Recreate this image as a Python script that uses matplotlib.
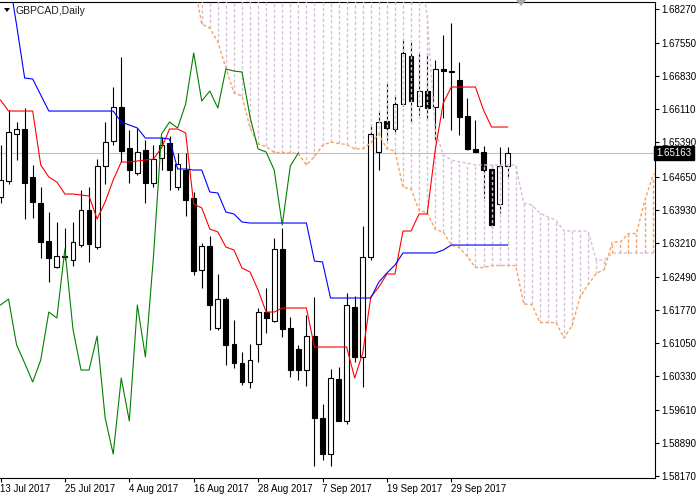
import matplotlib
matplotlib.use('Agg')
import matplotlib.pyplot as plt
from matplotlib.patches import Polygon
import numpy as np

plt.rcParams['font.family'] = ['Liberation Sans', 'DejaVu Sans']

symbol_label = 'GBPCAD,Daily'
date_labels = ['13 Jul 2017', '25 Jul 2017', '4 Aug 2017', '16 Aug 2017',
               '28 Aug 2017', '7 Sep 2017', '19 Sep 2017', '29 Sep 2017']
date_bars = [0, 8, 16, 24, 32, 40, 48, 56]
price_tick_labels = ['1.58170', '1.58890', '1.59610', '1.60330', '1.61050',
                     '1.61770', '1.62490', '1.63210', '1.63930', '1.64650',
                     '1.65390', '1.66110', '1.66830', '1.67550', '1.68270']
last_price = 1.65163

opens = [1.64210, 1.64557, 1.65573, 1.65681, 1.64643, 1.64081, 1.63259, 1.62697,
         1.62934, 1.62848, 1.63172, 1.63929, 1.63129, 1.64881, 1.65422, 1.66157,
         1.65270, 1.64730, 1.65227, 1.64513, 1.65054, 1.65378, 1.64427, 1.64794,
         1.64189, 1.62632, 1.63151, 1.61377, 1.62005, 1.61031, 1.60620, 1.60209,
         1.61031, 1.61723, 1.61529, 1.63086, 1.61377, 1.60923, 1.60469, 1.61204,
         1.59431, 1.58652, 1.60274, 1.59366, 1.61832, 1.60750, 1.62913, 1.65184,
         1.65854, 1.65681, 1.66222, 1.67260, 1.66179, 1.66503, 1.66157, 1.66979,
         1.66935, 1.66741, 1.65962, 1.65249, 1.65184, 1.64816, 1.64059, 1.64881]
highs = [1.65335, 1.66092, 1.65833, 1.66135, 1.64903, 1.64427, 1.63886, 1.63670,
         1.63540, 1.63670, 1.64362, 1.64427, 1.65032, 1.65833, 1.66589, 1.67238,
         1.65659, 1.65703, 1.65443, 1.65335, 1.65508, 1.65530, 1.65162, 1.65162,
         1.64319, 1.63216, 1.63367, 1.62545, 1.62048, 1.61550, 1.60858, 1.61031,
         1.61810, 1.62242, 1.63324, 1.63540, 1.61615, 1.61010, 1.61658, 1.62048,
         1.59734, 1.60491, 1.60534, 1.62134, 1.62069, 1.63583, 1.65768, 1.66049,
         1.66676, 1.66395, 1.67606, 1.67563, 1.67325, 1.67325, 1.67173, 1.67714,
         1.67974, 1.67130, 1.66352, 1.65876, 1.65313, 1.64903, 1.65292, 1.65292]
lows = [1.64081, 1.64492, 1.65011, 1.63735, 1.63756, 1.62891, 1.62372, 1.62675,
        1.62848, 1.62718, 1.63129, 1.62805, 1.63086, 1.64492, 1.65335, 1.64967,
        1.64513, 1.64686, 1.64081, 1.64427, 1.64794, 1.64362, 1.64362, 1.63800,
        1.62524, 1.62242, 1.61334, 1.61334, 1.60577, 1.60512, 1.60145, 1.60080,
        1.60642, 1.61269, 1.61507, 1.61183, 1.60318, 1.60253, 1.60123, 1.58393,
        1.58523, 1.58393, 1.59366, 1.59301, 1.60642, 1.60101, 1.62848, 1.64794,
        1.65443, 1.65595, 1.66179, 1.65833, 1.65984, 1.65876, 1.65443, 1.65919,
        1.65659, 1.65551, 1.65227, 1.65184, 1.64189, 1.63540, 1.63864, 1.64643]
closes = [1.64578, 1.65616, 1.65681, 1.64513, 1.64102, 1.63237, 1.62891, 1.62934,
          1.62913, 1.63237, 1.63929, 1.63194, 1.64881, 1.65400, 1.66157, 1.65205,
          1.64794, 1.65184, 1.64513, 1.65032, 1.65335, 1.64794, 1.64924, 1.64146,
          1.62610, 1.63151, 1.61875, 1.62005, 1.61010, 1.60620, 1.60209, 1.60685,
          1.61723, 1.61594, 1.63086, 1.61356, 1.60469, 1.60469, 1.61204, 1.59431,
          1.58652, 1.60296, 1.59366, 1.61875, 1.60750, 1.62913, 1.65573, 1.65833,
          1.65703, 1.66222, 1.67325, 1.66287, 1.66503, 1.66135, 1.66979, 1.66935,
          1.66914, 1.65941, 1.65249, 1.65184, 1.64794, 1.63605, 1.64881, 1.65163]

tenkan = [1.66308, 1.66070, 1.66070, 1.66070, 1.66070, 1.64903, 1.64643, 1.64535,
          1.64275, 1.64275, 1.64254, 1.64232, 1.63735, 1.64102, 1.64578, 1.64967,
          1.64967, 1.64989, 1.65011, 1.65032, 1.65270, 1.65681, 1.65681, 1.65595,
          1.64059, 1.63973, 1.63518, 1.63454, 1.63129, 1.63064, 1.62675, 1.62588,
          1.62199, 1.61723, 1.61723, 1.61810, 1.61810, 1.61810, 1.61810, 1.60966,
          1.60966, 1.60966, 1.60966, 1.60966, 1.60296, 1.60837, 1.62048, 1.62264,
          1.62545, 1.62545, 1.63475, 1.63475, 1.63843, 1.63843, 1.65227, 1.66243,
          1.66589, 1.66589, 1.66589, 1.66589, 1.66092, 1.65724, 1.65724, 1.65724]
kijun = [1.70201, 1.69012, 1.67930, 1.66784, 1.66762, 1.66417, 1.66070, 1.66070,
         1.66070, 1.66070, 1.66070, 1.66070, 1.66070, 1.66070, 1.66070, 1.65833,
         1.65768, 1.65703, 1.65486, 1.65486, 1.65486, 1.65465, 1.64816, 1.64816,
         1.64794, 1.64794, 1.64319, 1.64297, 1.63886, 1.63843, 1.63670, 1.63648,
         1.63648, 1.63648, 1.63648, 1.63648, 1.63648, 1.63648, 1.63648, 1.62826,
         1.62805, 1.62026, 1.62026, 1.62026, 1.62026, 1.62026, 1.62026, 1.62372,
         1.62567, 1.62740, 1.63000, 1.63000, 1.63000, 1.63000, 1.63000, 1.63064,
         1.63172, 1.63172, 1.63172, 1.63172, 1.63172, 1.63172, 1.63172, 1.63172]

span_first_bar = 24
span_a = [1.68904, 1.67952, 1.67865, 1.67563, 1.67000, 1.66460, 1.66395, 1.65703,
          1.65357, 1.65303, 1.65173, 1.65173, 1.65162, 1.65151, 1.64903, 1.65086,
          1.65324, 1.65400, 1.65368, 1.65346, 1.65249, 1.65259, 1.65378, 1.65573,
          1.65249, 1.65205, 1.64427, 1.64384, 1.63918, 1.63875, 1.63508, 1.63454,
          1.63172, 1.63118, 1.62924, 1.62686, 1.62686, 1.62729, 1.62729, 1.62729,
          1.62729, 1.61897, 1.61886, 1.61496, 1.61496, 1.61496, 1.61161, 1.61431,
          1.62048, 1.62318, 1.62556, 1.62643, 1.63237, 1.63237, 1.63421, 1.63421,
          1.64113, 1.64654, 1.64881]
span_b = [1.69300, 1.69300, 1.69300, 1.69300, 1.69300, 1.69300, 1.69300, 1.69300,
          1.69300, 1.69300, 1.69300, 1.69300, 1.69300, 1.69300, 1.69300, 1.69300,
          1.69300, 1.69300, 1.69300, 1.69300, 1.69300, 1.69300, 1.69300, 1.69300,
          1.69300, 1.69300, 1.69300, 1.69300, 1.69300, 1.68147, 1.65659, 1.65119,
          1.65011, 1.64967, 1.64946, 1.64903, 1.64903, 1.64903, 1.64903, 1.64903,
          1.64903, 1.64081, 1.64038, 1.63864, 1.63778, 1.63713, 1.63475, 1.63475,
          1.63475, 1.63475, 1.62848, 1.62848, 1.62999, 1.63000, 1.63000, 1.63000,
          1.63000, 1.63000, 1.63000]
chikou_shift = 26

# ---------------------------------------------------------------- figure
W, H = 700, 495
fig = plt.figure(figsize=(W / 100, H / 100), dpi=100)
ax_left, ax_right, ax_top, ax_bot = 0.0, 654.5, 1.5, 477.5
ax = fig.add_axes([ax_left / W, (H - ax_bot) / H, (ax_right - ax_left) / W,
                   (ax_bot - ax_top) / H])

o = np.array(opens); h = np.array(highs); l = np.array(lows); c = np.array(closes)
x = np.arange(len(o))

# price line
ax.axhline(last_price, color='#C0C0C0', lw=0.8, zorder=1)

# candles
ax.vlines(x, l, h, color='black', lw=0.8, zorder=2)
bull = c >= o
ax.bar(x[bull], (c - o)[bull], bottom=o[bull], width=0.6, color='white',
       edgecolor='black', lw=0.8, zorder=2.5)
ax.bar(x[~bull], (o - c)[~bull], bottom=c[~bull], width=0.6, color='black',
       edgecolor='black', lw=0.8, zorder=2.5)

# cloud
sa = np.array(span_a); sb = np.array(span_b)
sx = np.arange(span_first_bar, span_first_bar + len(sa))
dot = (0, (2.3, 1.6))
for xi, a, b in zip(sx, sa, sb):
    col = '#F4A460' if a > b else '#D8BFD8'
    ax.vlines(xi, min(a, b), max(a, b), colors=col, linestyles=[dot], lw=1.0, zorder=3)
ax.plot(sx, sa, color='#F4A460', ls=dot, lw=1.0, zorder=3.2)
ax.plot(sx, sb, color='#D8BFD8', ls=dot, lw=1.0, zorder=3.1)

# lines
ax.plot(x, tenkan, color='#FF0000', lw=0.8, zorder=4)
ax.plot(x, kijun, color='#0000FF', lw=0.8, zorder=4)
ax.plot(x[:len(x) - chikou_shift], c[chikou_shift:], color='#008000', lw=0.8, zorder=4)

# axes limits from pixel geometry
px_per_bar = 8.05
x0_px = 0.5
ax.set_xlim((ax_left - x0_px) / px_per_bar, (ax_right - x0_px) / px_per_bar)
ax.set_ylim(1.58144, 1.68439)

ax.spines['left'].set_visible(False)
for s in ['top', 'right', 'bottom']:
    ax.spines[s].set_linewidth(0.8)
ax.yaxis.tick_right()
ax.set_yticks([float(t) for t in price_tick_labels])
ax.set_yticklabels(price_tick_labels)
ax.set_xticks(date_bars)
ax.set_xticklabels(date_labels, ha='left')
ax.tick_params(axis='y', direction='out', length=3, width=0.8, pad=2, labelsize=7)
ax.tick_params(axis='x', direction='out', length=3, width=0.8, pad=1.5, labelsize=7)

# last price label
ax.text(1.0 + 1.5 / (ax_right - ax_left), last_price, '%.5f' % last_price,
        transform=ax.get_yaxis_transform(), ha='left', va='center', color='white',
        fontsize=7, zorder=10, clip_on=False,
        bbox=dict(boxstyle='square,pad=0.25', fc='black', ec='black'))

# header
fig.patches.append(Polygon([[4 / W, 1 - 8 / H], [10 / W, 1 - 8 / H], [7 / W, 1 - 12 / H]],
                           closed=True, transform=fig.transFigure, fc='black', ec='none'))
fig.text(15 / W, 1 - 10.5 / H, symbol_label, fontsize=7.5, ha='left', va='center',
         color='#202020')
fig.patches.append(Polygon([[516 / W, 1.0], [526 / W, 1.0], [521 / W, 1 - 6 / H]],
                           closed=True, transform=fig.transFigure, fc='#A8A8A8', ec='none'))

fig.savefig('out.png', dpi=100)
